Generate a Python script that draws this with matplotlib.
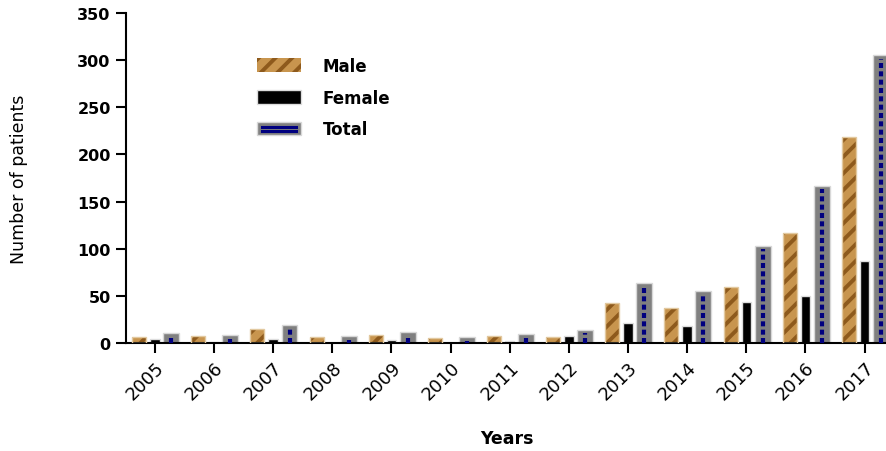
import matplotlib
matplotlib.use("Agg")
import matplotlib.pyplot as plt
import numpy as np
from matplotlib.legend_handler import HandlerBase
from matplotlib.patches import Rectangle, Patch
from matplotlib.lines import Line2D

years = ["2005", "2006", "2007", "2008", "2009", "2010", "2011",
         "2012", "2013", "2014", "2015", "2016", "2017"]
male = [6, 7, 15, 6, 8, 5, 7, 6, 42, 37, 59, 117, 218]
female = [4, 1, 4, 0, 3, 0, 2, 7, 21, 18, 43, 50, 87]
total = [11, 8, 19, 7, 12, 6, 10, 14, 64, 55, 103, 167, 305]

TAN = "#C8954E"
BROWN = "#8E5A1C"
GRAY = "#808080"
NAVY = "#00007F"

plt.rcParams["font.family"] = ["DejaVu Sans"]
plt.rcParams["hatch.linewidth"] = 2.8

fig = plt.figure(figsize=(8.87, 4.52), dpi=100)
ax = fig.add_axes([0.142, 0.239, 0.858, 0.730])

x = np.arange(len(years))
off_m, off_t = -0.266, 0.276
w_m, w_f, w_t = 0.237, 0.16, 0.27

ax.bar(x + off_m, male, width=w_m, facecolor=TAN, edgecolor=BROWN,
       hatch="//", linewidth=0, zorder=2)
ax.bar(x + off_m, male, width=w_m, fill=False, edgecolor="#E2C9A0",
       linewidth=1, zorder=3)
ax.bar(x, female, width=w_f, facecolor="black", edgecolor="#DDDDDD",
       linewidth=1, zorder=2)
ax.bar(x + off_t, total, width=w_t, facecolor=GRAY, edgecolor="#D8D8D8",
       linewidth=1, zorder=2)
tot = np.array(total, dtype=float)
ax.vlines(x + off_t, 0, np.maximum(tot - 3.5, 0), colors=NAVY,
          linewidth=3, linestyles=(0, (1.2, 0.8)), zorder=4)

ax.set_xlim(-0.49, 12.38)
ax.set_ylim(0, 350)
ax.set_yticks(np.arange(0, 351, 50))
ax.set_xticks(x)
ax.set_xticklabels(years, rotation=45, ha="right", rotation_mode="anchor",
                   fontsize=13)
for lab in ax.get_yticklabels():
    lab.set_fontweight("bold")
    lab.set_fontsize(11.5)
ax.tick_params(axis="both", direction="out", length=7, width=1.5, color="black")
ax.tick_params(axis="x", pad=4)
ax.tick_params(axis="y", pad=4)

for s in ["top", "right"]:
    ax.spines[s].set_visible(False)
for s in ["left", "bottom"]:
    ax.spines[s].set_linewidth(1.5)

ax.set_ylabel("Number of patients", fontsize=12.5)
ax.yaxis.set_label_coords(-0.129, 0.5)
ax.set_xlabel("Years", fontsize=12.5, fontweight="bold")
ax.xaxis.set_label_coords(0.5, -0.262)


class TotalHandler(HandlerBase):
    def create_artists(self, legend, orig_handle, xdescent, ydescent,
                       width, height, fontsize, trans):
        r = Rectangle((-xdescent, -ydescent), width, height, facecolor=GRAY,
                      edgecolor="#D8D8D8", linewidth=1, transform=trans)
        x0 = -xdescent + width * 0.12
        x1 = -xdescent + width * 0.88
        ya = -ydescent + height * 0.36
        yb = -ydescent + height * 0.64
        l1 = Line2D([x0, x1], [ya, ya], color=NAVY, linewidth=2.2,
                    transform=trans)
        l2 = Line2D([x0, x1], [yb, yb], color=NAVY, linewidth=2.2,
                    transform=trans)
        return [r, l1, l2]


h_m = Patch(facecolor=TAN, edgecolor=BROWN, hatch="//", linewidth=0)
h_f = Patch(facecolor="black", edgecolor="#DDDDDD", linewidth=1)
h_t = Patch(facecolor=GRAY)
leg = ax.legend([h_m, h_f, h_t], ["Male", "Female", "Total"],
                handler_map={h_t: TotalHandler()},
                loc="upper left", bbox_to_anchor=(0.161, 0.892), frameon=False,
                prop={"weight": "bold", "size": 12}, handlelength=2.65,
                handleheight=0.9, labelspacing=0.82, handletextpad=1.3,
                borderpad=0)

fig.savefig("out.png", dpi=100)
